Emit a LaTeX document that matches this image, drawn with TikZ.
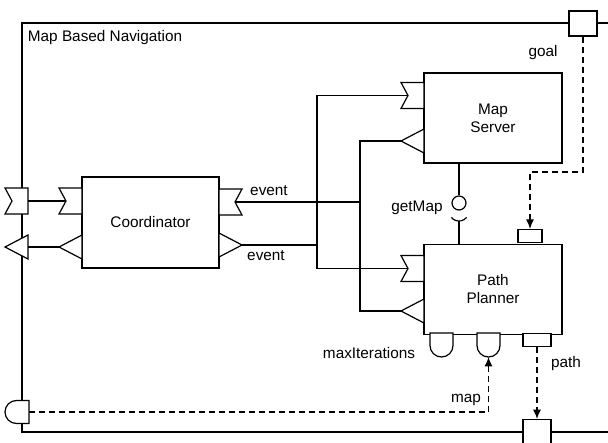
\documentclass[tikz,border=0pt]{standalone}
\usepackage{fontspec}
\setmainfont{Liberation Sans}
\usetikzlibrary{positioning, arrows.meta}

% port shapes, drawn from the point where they sit on a box edge
\tikzset{
    inport/.pic={
        \draw[fill=white] (0,-13) -- (-23,-13) -- (-16,0) -- (-23,13) -- (0,13) -- cycle;
        \coordinate (-tip) at (-16,0);
        \coordinate (-base) at (0,0);
    },
    triport/.pic={
        \draw[fill=white] (0,-12) -- (-23,0) -- (0,12) -- cycle;
        \coordinate (-tip) at (-23,0);
        \coordinate (-base) at (0,0);
    },
    cupport/.pic={
        \draw[fill=white] (-11.5,0) -- (-11.5,12.5) arc[start angle=180, end angle=0, radius=11.5] -- (11.5,0) -- cycle;
        \coordinate (-tip) at (0,24);
        \coordinate (-base) at (0,0);
    }
}

\begin{document}
\begin{tikzpicture}[
        x=0.75pt, y=-0.75pt, line width=0.9pt,
        every node/.style = {font=\fontsize{11.5}{13.5}\selectfont},
        block/.style = {rectangle, draw, fill=white, align=center, inner sep=0pt,
            minimum width=103.5pt, minimum height=67.5pt},
        port/.style = {rectangle, draw, fill=white, inner sep=0pt,
            minimum width=21pt, minimum height=18.75pt},
        slot/.style = {port, minimum height=9.75pt},
        ball/.style = {circle, draw, fill=white, inner sep=0pt, minimum size=10.5pt},
        lbl/.style = {inner sep=1pt},
        line/.style = {draw},
        flow/.style = {draw, dash pattern=on 4.5pt off 3pt, -{Latex[length=7pt, width=6pt]}}
    ]
    \useasboundingbox (0,0) rectangle (608,443);
    \clip (0,0) rectangle (608,443);

    % Outer block
    \draw (22,23) rectangle (640,432);
    \node[lbl, anchor=west] (title) at (26,38) {Map Based Navigation};

    % Parts
    \node[block, minimum width=102.75pt, minimum height=68.25pt] (coordinator) at (150.5,222.5) {Coordinator};
    \node[block] (mapserver) at (493,118) {Map\\Server};
    \node[block, below=60pt of mapserver] (planner) {Path\\Planner};

    % Ports
    \pic (fin) at (28,201) {inport};
    \pic (ftri) at (28,247) {triport};
    \pic[rotate=-90] (mapport) at (29,412) {cupport};
    \pic (coin) at (82,201) {inport};
    \pic (cotri) at (82,247) {triport};
    \pic[xscale=-1] (coout) at (219,202) {inport};
    \pic[xscale=-1] (coev) at (219,245) {triport};
    \pic (msin) at (424,95.5) {inport};
    \pic (mstri) at (424,141) {triport};
    \pic (ppin) at (424,268.5) {inport};
    \pic (pptri) at (424,311) {triport};
    \pic (cupa) at (441.5,333) {cupport};
    \pic (cupb) at (488.5,333) {cupport};
    \node[port] (goalport) at (583,23.5) {};
    \node[port] (outport) at (537,432) {};
    \node[slot, minimum width=18pt, anchor=south] (ppgoal) at (530,243) {};
    \node[slot, anchor=north] (pathport) at (537,333) {};

    % Lines
    \coordinate (busa) at (317,245);
    \coordinate (busb) at (360,202);
    \path [line] (fin-base) -- (coin-tip);
    \path [line] (ftri-base) -- (cotri-tip);
    \path [line] (msin-tip) -| (busa) |- (ppin-tip);
    \path [line] (coev-tip) -- (busa);
    \path [line] (mstri-tip) -| (busb) |- (pptri-tip);
    \path [line] (coout-tip) -- (busb);

    % getMap interface
    \node[ball] (getmap) at (459,203) {};
    \coordinate (socket) at (459,221);
    \path [line] (getmap |- mapserver.south) -- (getmap.north);
    \draw (socket) ++(0,-10) ++(140:10) arc[start angle=140, end angle=40, radius=10];
    \path [line] (socket) -- (socket |- planner.north);

    % Data flows
    \coordinate (goalbend) at (583,172);
    \path [flow] (goalport) -- (goalbend) -| (ppgoal);
    \path [flow] (mapport-base) -| (cupb-tip);
    \path [flow] (pathport) -- (outport);

    % Labels
    \node[lbl] (goallbl) at (543,53) {goal};
    \node[lbl] (eventa) at (269,191) {event};
    \node[lbl] (eventb) at (266,256) {event};
    \node[lbl] (getmaplbl) at (417,208) {getMap};
    \node[lbl] (iterlbl) at (369,353) {maxIterations};
    \node[lbl] (maplbl) at (466,400) {map};
    \node[lbl] (pathlbl) at (566,364) {path};

\end{tikzpicture}
\end{document}
